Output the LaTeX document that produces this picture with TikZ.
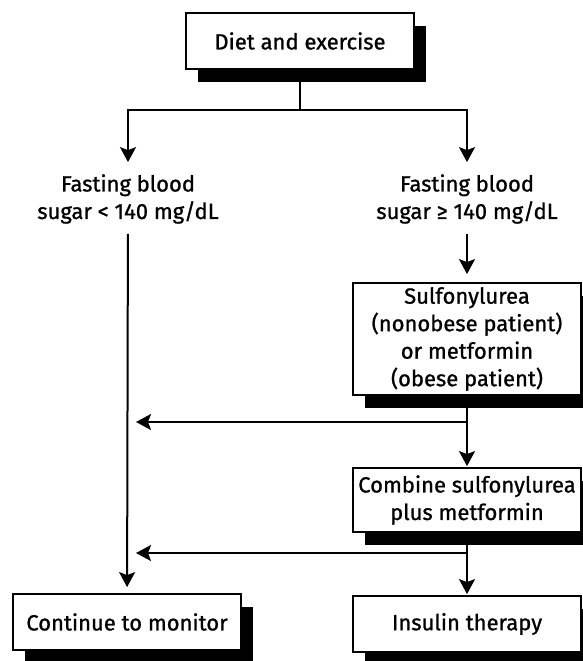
\documentclass[tikz,border=0pt]{standalone}
\usepackage{fontspec}
\setmainfont[FakeBold=1]{Fira Sans}
\usepackage{tikz}
\usetikzlibrary{arrows.meta}
\usetikzlibrary{shadows}

\tikzset{
  box/.style={draw, line width=1.8pt, fill=white, minimum width=228pt, align=center,
    drop shadow={shadow xshift=12pt, shadow yshift=-13pt, fill=black, opacity=1}},
  txt/.style={align=center, inner sep=0pt},
  flow/.style={line width=2pt, -{Stealth[length=15pt, width=16pt, inset=3pt]}}
}

\begin{document}
\begin{tikzpicture}[x=1pt, y=-1pt, font=\fontsize{22}{27.5}\selectfont]
           \useasboundingbox (0,0) rectangle (582,661);

           % Diet box
           \node[box, minimum height=56pt] (diet) at (300,41) {Diet and exercise};
           \coordinate (split) at (300,110);

           % Fasting blood sugar
           \node[txt] (low) at (128,199) {Fasting blood\\sugar < 140 mg/dL};
           \node[txt] (high) at (467,199) {Fasting blood\\sugar ≥ 140 mg/dL};

           % Drug boxes
           \node[box, minimum height=112pt] (sulf) at (467,339)
             {Sulfonylurea\\(nonobese patient)\\or metformin\\(obese patient)};
           \node[box, minimum height=64pt, inner sep=1pt] (combo) at (467,500)
             {Combine sulfonylurea\\plus metformin};

           % End boxes
           \node[box, minimum height=56pt] (monitor) at (127,622) {Continue to monitor};
           \node[box, minimum height=56pt] (insulin) at (467,624) {Insulin therapy};

           % junctions
           \coordinate (j1) at (467,422);
           \coordinate (j2) at (467,553);

           % connectors
           \draw[line width=2pt] (diet) -- (split);
           \draw[flow] (split) -| ([yshift=12pt]low.north);
           \draw[flow] (split) -| ([yshift=12pt]high.north);
           \draw[flow, shorten <=10pt, shorten >=8pt] (high) -- (sulf);
           \draw[flow, shorten >=1pt] (sulf) -- (combo);
           \draw[flow, shorten >=8pt] (j1) -- (j1 -| low);
           \draw[flow, shorten >=8pt] (j2) -- (j2 -| low);
           \draw[flow, shorten >=1pt] (combo) -- (insulin);
           \draw[flow, shorten <=10pt, shorten >=6pt] (low) -- (monitor);

          \end{tikzpicture}
\end{document}
